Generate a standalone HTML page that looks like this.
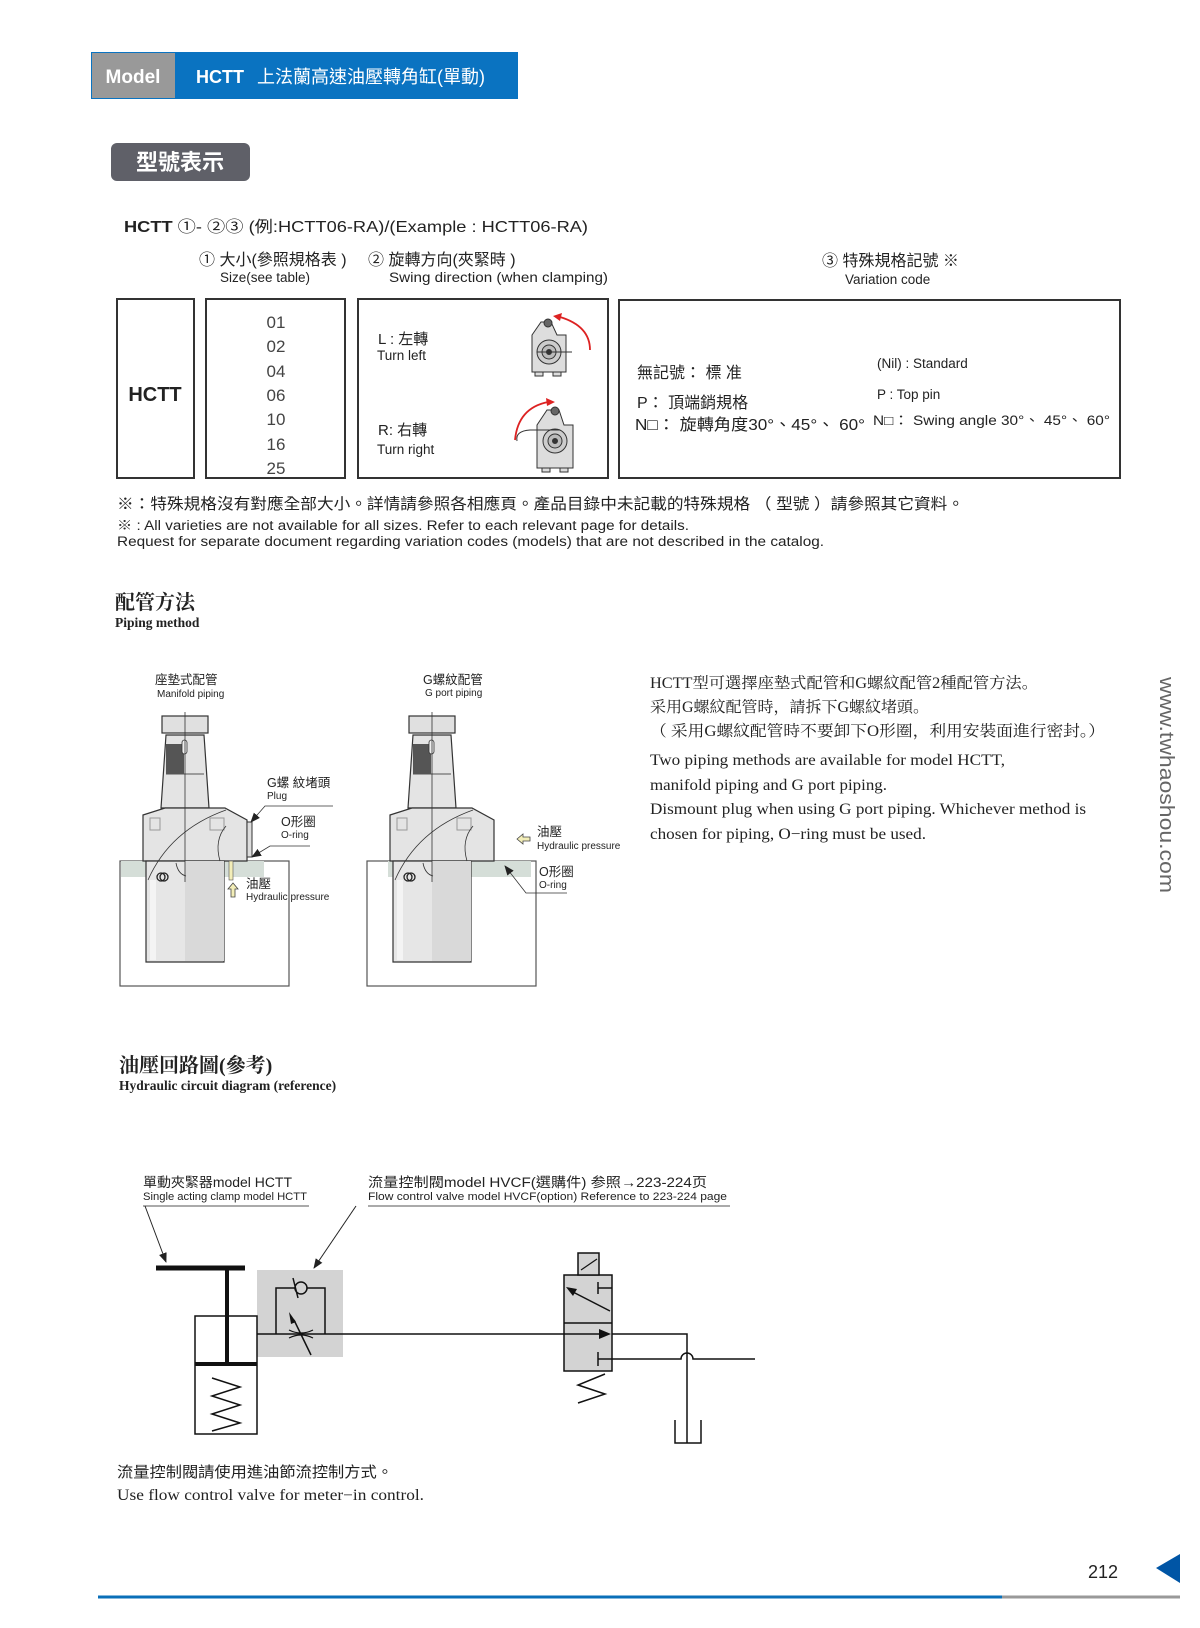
<!DOCTYPE html>
<html><head><meta charset="utf-8"><style>
html,body{margin:0;padding:0;background:#fff}
svg{display:block}
.s{font-family:"Liberation Sans","Noto Sans CJK TC",sans-serif}
.r{font-family:"Liberation Serif","Noto Serif CJK SC",serif}
</style></head><body>
<svg width="1200" height="1628" viewBox="0 0 1200 1628" xmlns="http://www.w3.org/2000/svg">
<defs>
<marker id="ah" markerWidth="10" markerHeight="10" refX="9" refY="5" orient="auto" markerUnits="userSpaceOnUse"><path d="M0,1 L10,5 L0,9 Z" fill="#222"/></marker>
<g id="clamp">
 <path d="M161,808 L166,735 L204,735 L209,808 Z" fill="#e4e4e4" stroke="#333" stroke-width="1.2"/>
 <rect x="166" y="744" width="18" height="30" fill="#555"/>
 <line x1="166" y1="774" x2="204" y2="774" stroke="#555"/>
 <rect x="162" y="716" width="46" height="17" fill="#e0e0e0" stroke="#333" stroke-width="1.2"/>
 <rect x="182" y="740" width="5" height="14" rx="2.5" fill="#eee" stroke="#333" stroke-width="0.8"/>
 <path d="M143,815 L165,808 L225,808 L247,820 L247,861 L143,861 Z" fill="#e4e4e4" stroke="#333" stroke-width="1.2"/>
 <rect x="150" y="818" width="10" height="12" fill="none" stroke="#999"/>
 <rect x="210" y="818" width="14" height="12" fill="none" stroke="#999"/>
 <path d="M146,861 L224,861 L224,962 L146,962 Z" fill="#e6e6e6" stroke="#333" stroke-width="1.2"/>
 <rect x="185" y="861" width="39" height="100" fill="#d9d9d9"/>
 <rect x="150" y="880" width="6" height="80" fill="#f4f4f4"/>
 <path d="M148,880 Q170,830 226,810" fill="none" stroke="#333" stroke-width="0.8"/>
 <path d="M220,861 Q214,840 226,826" fill="none" stroke="#333" stroke-width="0.8"/>
 <path d="M176,863 Q178,874 186,876" fill="none" stroke="#333" stroke-width="0.8"/>
 <circle cx="161" cy="877" r="4" fill="none" stroke="#222" stroke-width="1.3"/>
 <circle cx="164" cy="877" r="4" fill="none" stroke="#222" stroke-width="1.3"/>
 <line x1="185" y1="712" x2="185" y2="882" stroke="#333" stroke-width="0.8"/>
</g>
</defs>

<rect x="91" y="52" width="427" height="47" fill="#0a73c1"/>
<rect x="92" y="53" width="83" height="45" fill="#999"/>
<text x="133" y="83" class="s" font-size="19" font-weight="bold" fill="#fff" text-anchor="middle">Model</text>
<text x="196" y="83" class="s" font-size="18" font-weight="bold" fill="#fff">HCTT</text>
<text x="257" y="83" class="s" font-size="18" fill="#fff">上法蘭高速油壓轉角缸(單動)</text>

<rect x="111" y="143" width="139" height="38" rx="6" fill="#5f6068"/>
<text x="180" y="170" class="s" font-size="22" font-weight="bold" fill="#fff" text-anchor="middle">型號表示</text>

<text x="124" y="232" class="s" font-size="16" fill="#222" textLength="464" lengthAdjust="spacingAndGlyphs"><tspan font-weight="bold">HCTT</tspan>  ①- ②③   (例:HCTT06-RA)/(Example : HCTT06-RA)</text>
<text x="199" y="265" class="s" font-size="16" fill="#222">① 大小(參照規格表 )</text>
<text x="220" y="282" class="s" font-size="13.5" fill="#222">Size(see table)</text>
<text x="368" y="265" class="s" font-size="16" fill="#222">② 旋轉方向(夾緊時 )</text>
<text x="389" y="282" class="s" font-size="13.5" fill="#222" textLength="219" lengthAdjust="spacingAndGlyphs">Swing direction (when clamping)</text>
<text x="822" y="266" class="s" font-size="16" fill="#222">③ 特殊規格記號 ※</text>
<text x="845" y="284" class="s" font-size="13.5" fill="#222">Variation code</text>

<g fill="none" stroke="#333" stroke-width="2">
<rect x="117" y="299" width="77" height="179"/>
<rect x="206" y="299" width="139" height="179"/>
<rect x="358" y="299" width="250" height="179"/>
<rect x="619" y="300" width="501" height="178"/>
</g>
<text x="155" y="401" class="s" font-size="20" font-weight="bold" fill="#222" text-anchor="middle">HCTT</text>
<g class="s" font-size="17" fill="#444" text-anchor="middle">
<text x="276" y="328">01</text><text x="276" y="352">02</text><text x="276" y="377">04</text><text x="276" y="401">06</text><text x="276" y="425">10</text><text x="276" y="450">16</text><text x="276" y="474">25</text>
</g>
<text x="378" y="344" class="s" font-size="15" fill="#222">L : 左轉</text>
<text x="377" y="360" class="s" font-size="13.5" fill="#222">Turn left</text>
<text x="378" y="435" class="s" font-size="15" fill="#222">R: 右轉</text>
<text x="377" y="454" class="s" font-size="13.5" fill="#222">Turn right</text>
<g stroke="#333" stroke-width="1" fill="#ddd">
<path d="M532,335 L541,322 L551,322 L557,335 L566,335 L566,372 L532,372 Z"/>
<circle cx="549" cy="352" r="12" fill="#ccc"/><circle cx="549" cy="352" r="7" fill="#bbb"/><circle cx="549" cy="352" r="2.5" fill="#333"/>
<circle cx="548" cy="323" r="4" fill="#666"/>
<path d="M537,352 L572,352" fill="none"/>
<rect x="535" y="372" width="8" height="4"/><rect x="553" y="372" width="8" height="4"/>
</g>
<path d="M590,350 Q590,326 560,317" fill="none" stroke="#d22" stroke-width="1.8"/>
<path d="M553,316 L562,313 L560,321 Z" fill="#d22"/>
<g stroke="#333" stroke-width="1" fill="#ddd">
<path d="M537,425 L547,410 L559,410 L564,425 L573,425 L573,468 L537,468 Z"/>
<circle cx="555" cy="441" r="12" fill="#ccc"/><circle cx="555" cy="441" r="7" fill="#bbb"/><circle cx="555" cy="441" r="2.5" fill="#333"/>
<circle cx="555" cy="411" r="4" fill="#666"/>
<path d="M517,441 Q515,431 530,430 L560,430" fill="none"/>
<rect x="542" y="468" width="8" height="4"/><rect x="560" y="468" width="8" height="4"/>
</g>
<path d="M515,440 Q518,408 548,402" fill="none" stroke="#d22" stroke-width="1.8"/>
<path d="M555,402 L546,398 L547,406 Z" fill="#d22"/>

<text x="637" y="378" class="s" font-size="16" fill="#222">無記號： 標 准</text>
<text x="637" y="408" class="s" font-size="16" fill="#222">P： 頂端銷規格</text>
<text x="635" y="430" class="s" font-size="16" fill="#222" textLength="230" lengthAdjust="spacingAndGlyphs">N□： 旋轉角度30°、45°、 60°</text>
<text x="877" y="368" class="s" font-size="13.5" fill="#222">(Nil) : Standard</text>
<text x="877" y="399" class="s" font-size="13.5" fill="#222">P : Top pin</text>
<text x="873" y="425" class="s" font-size="13.5" fill="#222" textLength="237" lengthAdjust="spacingAndGlyphs">N□： Swing angle 30°、 45°、 60°</text>

<text x="117" y="509" class="s" font-size="15.5" fill="#222" textLength="847" lengthAdjust="spacingAndGlyphs">※：特殊規格沒有對應全部大小。詳情請參照各相應頁。產品目錄中未記載的特殊規格 （ 型號 ）請參照其它資料。</text>
<text x="117" y="530" class="s" font-size="13.5" fill="#222" textLength="572" lengthAdjust="spacingAndGlyphs">※ : All varieties are not available for all sizes. Refer to each relevant page for details.</text>
<text x="117" y="546" class="s" font-size="13.5" fill="#222" textLength="707" lengthAdjust="spacingAndGlyphs">Request for separate document regarding variation codes (models) that are not described in the catalog.</text>

<text x="115" y="609" class="r" font-size="20" font-weight="bold" fill="#222">配管方法</text>
<text x="115" y="627" class="r" font-size="13.5" font-weight="bold" fill="#222">Piping method</text>

<rect x="120" y="861" width="169" height="125" fill="#fff" stroke="#555" stroke-width="1.2"/>
<rect x="121" y="861" width="143" height="16" fill="#d5ded8"/>
<use href="#clamp"/>
<rect x="247" y="822" width="5" height="35" fill="#ddd" stroke="#333"/>
<rect x="229" y="861" width="4" height="19" fill="#f3eeb8" stroke="#555" stroke-width="0.6"/>
<path d="M233,883 L228,889 L231,889 L231,897 L235,897 L235,889 L238,889 Z" fill="#f3eeb8" stroke="#444" stroke-width="0.8"/>
<path d="M333,806 L265,806 L251,822" fill="none" stroke="#333" stroke-width="0.8" marker-end="url(#ah)"/>
<path d="M310,846 L270,846 L252,857" fill="none" stroke="#333" stroke-width="0.8" marker-end="url(#ah)"/>

<rect x="367" y="861" width="169" height="125" fill="#fff" stroke="#555" stroke-width="1.2"/>
<rect x="388" y="861" width="143" height="16" fill="#d5ded8"/>
<use href="#clamp" transform="translate(247,0)"/>
<path d="M517,839 L523,834 L523,837 L530,837 L530,841 L523,841 L523,844 Z" fill="#f3eeb8" stroke="#444" stroke-width="0.8"/>
<path d="M567,893 L526,893 L505,866" fill="none" stroke="#333" stroke-width="0.8" marker-end="url(#ah)"/>

<g class="s" fill="#222">
<text x="155" y="684" font-size="12.5">座墊式配管</text>
<text x="157" y="697" font-size="10">Manifold piping</text>
<text x="423" y="684" font-size="12.5">G螺紋配管</text>
<text x="425" y="696" font-size="10">G port piping</text>
<text x="267" y="787" font-size="12.5">G螺 紋堵頭</text>
<text x="267" y="799" font-size="10">Plug</text>
<text x="281" y="826" font-size="12.5">O形圈</text>
<text x="281" y="838" font-size="10">O-ring</text>
<text x="246" y="888" font-size="12.5">油壓</text>
<text x="246" y="900" font-size="10">Hydraulic pressure</text>
<text x="537" y="836" font-size="12.5">油壓</text>
<text x="537" y="849" font-size="10">Hydraulic pressure</text>
<text x="539" y="876" font-size="12.5">O形圈</text>
<text x="539" y="888" font-size="10">O-ring</text>
</g>

<g class="r" fill="#222" lengthAdjust="spacingAndGlyphs">
<text x="650" y="688" font-size="15.5" textLength="388" lengthAdjust="spacingAndGlyphs">HCTT型可選擇座墊式配管和G螺紋配管2種配管方法。</text>
<text x="650" y="712" font-size="15.5" textLength="279" lengthAdjust="spacingAndGlyphs">采用G螺紋配管時，請拆下G螺紋堵頭。</text>
<text x="650" y="736" font-size="15.5" textLength="455" lengthAdjust="spacingAndGlyphs">（ 采用G螺紋配管時不要卸下O形圈，利用安裝面進行密封。）</text>
<text x="650" y="765" font-size="16" textLength="355" lengthAdjust="spacingAndGlyphs">Two piping methods are available for model HCTT,</text>
<text x="650" y="790" font-size="16" textLength="237" lengthAdjust="spacingAndGlyphs">manifold piping and G port piping.</text>
<text x="650" y="814" font-size="16" textLength="436" lengthAdjust="spacingAndGlyphs">Dismount plug when using G port piping. Whichever method is</text>
<text x="650" y="839" font-size="16" textLength="276" lengthAdjust="spacingAndGlyphs">chosen for piping, O−ring must be used.</text>
</g>
<text transform="translate(1160,677) rotate(90)" class="s" font-size="20" fill="#666" textLength="216" lengthAdjust="spacingAndGlyphs">www.twhaoshou.com</text>

<text x="119" y="1072" class="r" font-size="20" font-weight="bold" fill="#222">油壓回路圖(參考)</text>
<text x="119" y="1090" class="r" font-size="13.5" font-weight="bold" fill="#222">Hydraulic circuit diagram (reference)</text>

<g class="s" fill="#222">
<text x="143" y="1187" font-size="13.5" textLength="149" lengthAdjust="spacingAndGlyphs">單動夾緊器model HCTT</text>
<text x="143" y="1200" font-size="11" textLength="164" lengthAdjust="spacingAndGlyphs">Single acting clamp model HCTT</text>
<text x="368" y="1187" font-size="13.5" textLength="339" lengthAdjust="spacingAndGlyphs">流量控制閥model HVCF(選購件) 参照→223-224页</text>
<text x="368" y="1200" font-size="11" textLength="359" lengthAdjust="spacingAndGlyphs">Flow control valve model HVCF(option)   Reference to 223-224 page</text>
</g>
<g stroke="#555" stroke-width="1" fill="none">
<line x1="143" y1="1206" x2="309" y2="1206"/>
<line x1="368" y1="1206" x2="730" y2="1206"/>
<line x1="145" y1="1206" x2="166" y2="1262" stroke="#222" marker-end="url(#ah)"/>
<line x1="356" y1="1206" x2="314" y2="1268" stroke="#222" marker-end="url(#ah)"/>
</g>
<rect x="257" y="1270" width="86" height="87" fill="#d3d3d3"/>
<g stroke="#111" stroke-width="1.5" fill="none">
<rect x="195" y="1316" width="62" height="118"/>
<polyline points="276,1334 276,1288 295,1288"/>
<polyline points="307,1288 325,1288 325,1334"/>
<circle cx="301" cy="1288" r="6"/>
<line x1="293" y1="1278" x2="298" y2="1298"/>
<path d="M289,1330 Q301,1336 313,1330 M289,1338 Q301,1332 313,1338" stroke-width="1.2"/>
<line x1="311" y1="1355" x2="294" y2="1320"/>
<line x1="257" y1="1334" x2="564" y2="1334"/>
<polyline points="612,1334 687,1334 687,1443"/>
<polyline points="675,1420 675,1443 701,1443 701,1420"/>
<path d="M600,1359 L681,1359 A6,6 0 0 1 693,1359 L755,1359"/>
<polyline points="212,1378 240,1387 212,1396 240,1405 212,1414 240,1423 212,1431"/>
<polyline points="605,1374 578,1385 605,1394 578,1403"/>
</g>
<path d="M289,1312 L296,1322 L291,1324 Z" fill="#111"/>
<line x1="156" y1="1268" x2="245" y2="1268" stroke="#111" stroke-width="5"/>
<line x1="227" y1="1268" x2="227" y2="1364" stroke="#111" stroke-width="4"/>
<line x1="195" y1="1364" x2="257" y2="1364" stroke="#111" stroke-width="4"/>
<rect x="564" y="1275" width="48" height="96" fill="#d3d3d3" stroke="#111" stroke-width="1.5"/>
<line x1="564" y1="1323" x2="612" y2="1323" stroke="#111" stroke-width="1.5"/>
<rect x="578" y="1253" width="21" height="22" fill="#d3d3d3" stroke="#111" stroke-width="1.5"/>
<line x1="581" y1="1270" x2="597" y2="1259" stroke="#111" stroke-width="1.2"/>
<g stroke="#111" stroke-width="1.5">
<line x1="610" y1="1311" x2="571" y2="1291"/>
<line x1="598" y1="1282" x2="598" y2="1294"/><line x1="598" y1="1288" x2="612" y2="1288"/>
<line x1="598" y1="1352" x2="598" y2="1366"/><line x1="598" y1="1359" x2="612" y2="1359"/>
<line x1="564" y1="1334" x2="600" y2="1334"/>
</g>
<path d="M566,1287 L577,1289 L573,1296 Z" fill="#111"/>
<path d="M611,1334 L599,1329 L599,1339 Z" fill="#111"/>

<text x="117" y="1477" class="s" font-size="15" fill="#222" textLength="276" lengthAdjust="spacingAndGlyphs">流量控制閥請使用進油節流控制方式。</text>
<text x="117" y="1500" class="r" font-size="15.5" fill="#222" textLength="307" lengthAdjust="spacingAndGlyphs">Use flow control valve for meter−in control.</text>

<text x="1088" y="1578" class="s" font-size="18" fill="#222">212</text>
<path d="M1156,1568 L1180,1554 L1180,1583 Z" fill="#0055a5"/>
<line x1="98" y1="1597" x2="1002" y2="1597" stroke="#0a6fb8" stroke-width="3"/>
<line x1="1002" y1="1597" x2="1180" y2="1597" stroke="#999" stroke-width="3"/>
</svg>
</body></html>
